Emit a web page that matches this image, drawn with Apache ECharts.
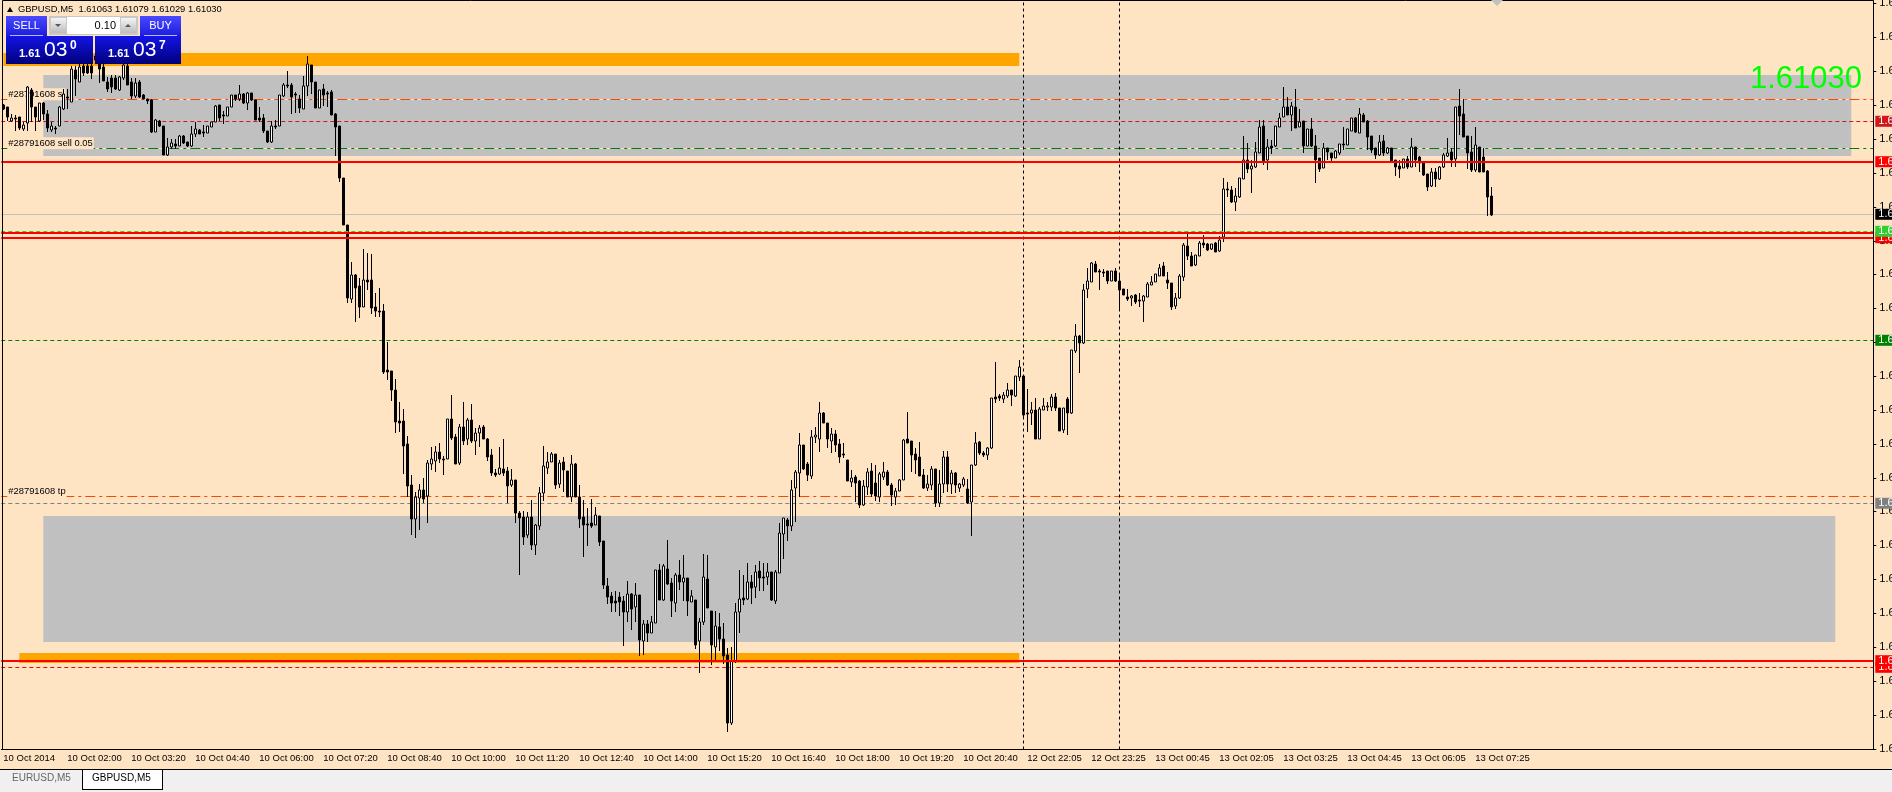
<!DOCTYPE html>
<html>
<head>
<meta charset="utf-8">
<title>GBPUSD,M5</title>
<script src="https://cdn.jsdelivr.net/npm/echarts@6/dist/echarts.min.js"></script>
<style>
html,body{margin:0;padding:0;background:#ffe4c4;overflow:hidden}
#chart{width:1892px;height:792px}
</style>
</head>
<body>
<div id="chart"></div>
<script>
// prices are kept as chart steps, 1 step = 0.0000175, level 1030 = last close 1.61030
var STEP = 0.0000175;
function toPrice(s){ return 1.6103 + (s - 1030) * STEP; }

var xTickLabels = ['10 Oct 2014','10 Oct 02:00','10 Oct 03:20','10 Oct 04:40','10 Oct 06:00','10 Oct 07:20','10 Oct 08:40','10 Oct 10:00','10 Oct 11:20','10 Oct 12:40','10 Oct 14:00','10 Oct 15:20','10 Oct 16:40','10 Oct 18:00','10 Oct 19:20','10 Oct 20:40','12 Oct 22:05','12 Oct 23:25','13 Oct 00:45','13 Oct 02:05','13 Oct 03:25','13 Oct 04:45','13 Oct 06:05','13 Oct 07:25'];
var yTicks = [1241,1207,1173,1139,1105,1071,1037,1003,970,936,902,868,834,800,766,733,699,665,631,597,563,529,495];
var yTickLabel = '1.6';

var opens = [
1139,1137,1123,1126,1127,1115,1121,1154,1137,1123,
1141,1130,1114,1116,1118,1135,1147,1142,1174,1162,
1178,1178,1178,1188,1182,1177,1162,1166,1166,1154,
1166,1178,1162,1148,1162,1149,1145,1144,1112,1123,
1118,1089,1097,1100,1098,1108,1102,1098,1110,1114,
1112,1111,1117,1122,1139,1129,1128,1137,1149,1145,
1150,1141,1151,1144,1126,1126,1113,1102,1118,1118,
1148,1159,1159,1150,1145,1135,1158,1179,1162,1136,
1155,1151,1152,1130,1118,1066,1019,945,969,958,
937,964,964,937,933,933,874,873,854,823,
823,800,759,725,746,754,748,780,783,792,
785,785,825,807,781,817,805,824,803,811,
817,805,789,771,770,775,773,759,764,731,
727,709,727,699,718,751,776,782,790,760,
782,773,747,780,747,727,720,721,719,728,
703,658,648,643,647,643,632,650,637,649,
603,620,611,621,674,644,675,661,641,669,
662,666,642,644,603,622,665,633,597,617,
605,589,521,583,632,646,645,662,657,673,
667,667,672,643,671,710,724,718,756,771,
799,780,768,807,805,831,821,803,810,800,
790,784,762,767,763,739,757,773,761,747,
767,772,759,747,753,764,805,803,790,787,
769,756,759,775,741,760,787,760,771,756,
759,755,742,779,802,791,789,796,847,848,
845,848,854,848,867,868,831,831,834,805,
834,837,837,847,836,814,845,831,893,908,
901,955,962,980,973,972,973,963,973,963,
955,947,946,949,944,943,947,959,962,968,
978,964,961,938,946,967,998,988,979,988,
1001,1000,995,1001,993,1007,1055,1054,1042,1047,
1065,1084,1075,1077,1091,1118,1084,1098,1098,1117,
1127,1137,1129,1137,1117,1123,1098,1115,1098,1086,
1076,1096,1091,1086,1091,1100,1099,1113,1126,1111,
1129,1123,1108,1096,1089,1103,1091,1096,1084,1078,
1076,1085,1077,1097,1087,1081,1070,1058,1072,1065,
1077,1088,1092,1085,1138,1130,1108,1092,1074,1097,
1087,1073,1048];
var closes = [
1135,1127,1126,1125,1116,1119,1157,1137,1127,1141,
1130,1116,1118,1115,1137,1150,1146,1175,1165,1177,
1171,1171,1171,1184,1175,1163,1155,1157,1155,1167,
1179,1159,1148,1161,1147,1145,1143,1112,1124,1118,
1089,1097,1101,1098,1108,1101,1098,1110,1115,1110,
1111,1118,1122,1138,1126,1128,1137,1149,1145,1150,
1141,1151,1144,1124,1124,1113,1102,1118,1117,1149,
1159,1158,1147,1149,1136,1158,1180,1162,1136,1154,
1149,1150,1129,1117,1066,1019,946,969,956,937,
964,962,936,933,932,872,872,854,822,821,
798,758,725,747,754,745,781,785,792,785,
784,825,806,780,817,803,824,803,811,816,
805,787,771,769,776,771,758,764,731,726,
707,727,699,719,751,778,782,790,759,781,
774,747,780,747,725,719,719,718,729,702,
659,647,641,641,642,632,650,635,649,604,
620,611,622,674,644,678,660,643,669,662,
666,643,648,599,622,667,636,599,618,605,
588,521,583,632,645,644,662,656,672,666,
666,672,644,672,711,726,718,754,772,799,
775,769,807,809,831,821,805,810,799,787,
789,763,766,761,739,758,772,750,748,770,
772,759,749,753,764,804,801,789,784,768,
756,760,775,741,760,787,760,771,759,760,
765,741,779,801,791,789,796,846,845,846,
849,854,849,868,877,829,830,834,805,835,
838,838,847,836,813,836,831,894,908,901,
954,963,981,972,972,971,963,973,963,954,
949,945,948,942,943,948,960,962,970,976,
968,961,937,946,968,999,988,978,989,1001,
999,994,1000,992,1004,1055,1054,1042,1048,1066,
1084,1075,1078,1092,1117,1083,1097,1096,1118,1126,
1137,1129,1138,1116,1122,1098,1115,1098,1084,1075,
1096,1092,1086,1093,1100,1099,1115,1126,1112,1130,
1122,1107,1094,1089,1102,1091,1096,1083,1077,1075,
1085,1077,1097,1084,1081,1069,1057,1072,1065,1077,
1089,1091,1084,1137,1128,1107,1091,1074,1099,1072,
1072,1047,1029];
var lows = [
1134,1123,1122,1113,1114,1113,1113,1122,1113,1122,
1124,1112,1112,1110,1118,1134,1135,1142,1148,1162,
1168,1170,1165,1181,1161,1163,1152,1151,1154,1153,
1164,1159,1145,1146,1146,1145,1140,1111,1112,1117,
1089,1088,1095,1095,1098,1100,1097,1097,1107,1110,
1107,1111,1117,1122,1123,1120,1128,1137,1143,1143,
1140,1134,1143,1124,1122,1111,1101,1101,1115,1118,
1147,1156,1130,1131,1131,1135,1148,1150,1136,1136,
1138,1137,1129,1088,1062,1019,941,941,922,926,
937,954,930,927,927,870,864,843,811,812,
770,747,709,706,714,741,721,774,772,781,
769,785,804,780,779,799,799,801,789,797,
805,783,768,767,769,768,741,757,721,669,
699,706,694,689,714,743,770,782,755,756,
752,747,742,747,716,687,698,716,719,698,
655,640,632,632,628,598,622,614,622,588,
589,602,611,621,644,643,659,627,632,654,
643,628,642,595,571,619,636,579,584,593,
580,512,519,581,611,639,644,640,646,653,
653,659,643,640,671,685,703,713,722,747,
774,763,765,801,792,821,796,791,792,781,
786,763,757,742,736,738,749,747,743,742,
764,758,738,739,753,764,801,772,770,768,
755,753,754,737,737,751,752,750,751,752,
757,740,708,778,789,787,784,795,841,843,
841,846,838,847,863,827,812,819,805,805,
834,833,833,833,813,811,809,830,891,871,
900,946,962,972,954,967,960,963,962,935,
949,943,938,940,937,922,947,959,962,968,
968,955,934,935,945,963,984,978,978,988,
996,993,994,992,992,1002,1047,1041,1033,1046,
1065,1071,1051,1076,1091,1079,1074,1090,1097,1117,
1127,1129,1113,1116,1117,1091,1098,1097,1061,1072,
1076,1084,1081,1086,1089,1094,1099,1113,1111,1111,
1122,1094,1091,1085,1088,1088,1090,1081,1068,1066,
1076,1075,1077,1077,1072,1068,1053,1057,1057,1064,
1076,1087,1077,1077,1109,1107,1075,1072,1072,1072,
1072,1028,1028];
var highs = [
1140,1137,1130,1129,1127,1122,1158,1156,1137,1141,
1142,1134,1122,1118,1138,1155,1155,1178,1178,1180,
1182,1182,1182,1192,1186,1180,1167,1169,1169,1168,
1182,1182,1166,1166,1164,1150,1145,1145,1125,1124,
1118,1106,1105,1105,1109,1109,1102,1118,1122,1115,
1119,1118,1122,1139,1139,1133,1137,1149,1149,1159,
1151,1152,1151,1144,1137,1130,1113,1123,1124,1149,
1161,1173,1161,1152,1149,1168,1188,1179,1162,1154,
1160,1153,1154,1131,1118,1066,1019,982,970,966,
995,991,990,951,956,940,902,873,865,842,
835,808,769,752,760,766,784,797,798,801,
788,825,849,810,820,842,826,840,816,819,
819,806,795,775,797,805,777,775,764,733,
733,732,744,720,757,798,792,792,790,784,
787,773,789,781,759,744,736,745,737,728,
703,666,652,653,652,648,663,651,661,649,
624,624,628,674,680,680,704,666,671,684,
689,666,654,644,626,690,689,633,633,631,
621,596,597,641,674,669,681,669,679,683,
681,681,672,674,721,726,726,764,774,811,
799,782,814,817,842,832,821,816,814,805,
801,784,774,769,764,764,776,781,779,772,
782,774,761,756,765,805,832,803,796,802,
775,769,778,775,774,793,793,774,772,761,
767,765,779,812,803,793,797,846,882,850,
852,861,854,868,884,868,855,842,846,837,
846,842,850,851,836,836,847,894,920,909,
960,976,982,983,975,975,973,973,976,969,
955,955,949,950,951,949,962,968,970,980,
982,972,961,951,970,1001,1011,992,989,1003,
1009,1001,1000,1002,1008,1066,1062,1058,1056,1066,
1108,1101,1084,1102,1124,1124,1105,1104,1118,1131,
1157,1147,1142,1155,1135,1123,1115,1126,1109,1086,
1101,1096,1091,1094,1100,1117,1115,1126,1127,1136,
1131,1124,1108,1096,1109,1109,1097,1096,1084,1084,
1085,1088,1106,1097,1088,1081,1070,1076,1076,1078,
1091,1106,1096,1137,1155,1145,1108,1108,1117,1097,
1096,1074,1057];

// zones: first bar, last bar, upper level, lower level
var orangeZones = [[0,254,1191,1178],[4,254,591,581]];
var greyZones = [[10,462,1169,1088],[10,458,728,602]];
var periodBars = [255,279];

var LABEL_EVERY = 16;
var BAR_SLOTS = 468;
var categories = [];
for (var i = 0; i < BAR_SLOTS; i++) categories.push(xTickLabels[i / LABEL_EVERY] || '');
var candles = opens.map(function(o,i){
  return [toPrice(o), toPrice(closes[i]), toPrice(lows[i]), toPrice(highs[i])];
});

var FONT = '"Liberation Sans", Arial, sans-serif';

function zone(z, color){
  return [{xAxis:z[0], yAxis:toPrice(z[2]), itemStyle:{color:color}}, {xAxis:z[1], yAxis:toPrice(z[3])}];
}
function level(s, color, type, width, tag, tagBg){
  var o = {yAxis:toPrice(s), lineStyle:{color:color, type:type, width:width, opacity:1}, label:{show:false}};
  if (tag) {
    o.label = {show:true, position:'end', distance:2, formatter:tag, color:'#fff', backgroundColor:tagBg || color,
      fontFamily:FONT, fontSize:11, lineHeight:10, padding:[1,8,0,3]};
  }
  return o;
}
function note(s, text){
  return {yAxis:toPrice(s), lineStyle:{color:'#ffe4c4', type:'solid', width:1, opacity:1},
    label:{show:true, position:'insideStartTop', distance:0, offset:[6,1], formatter:text, color:'#000',
      backgroundColor:'#ffe4c4', fontFamily:FONT, fontSize:9.4, lineHeight:12, padding:[0,1]}};
}

var DASHDOT = [10,4,3,4];
var DASH = [4,3];

// chrome of the terminal window, drawn on top of the chart
function box(x,y,w,h,fill,extra){
  return Object.assign({type:'rect', silent:true, z:50, shape:{x:x,y:y,width:w,height:h}, style:{fill:fill}}, extra||{});
}
function txt(x,y,t,size,color,opt){
  opt = opt || {};
  return {type:'text', silent:true, z:60, x:x, y:y, style:{text:t, fontSize:size, fill:color, fontFamily:FONT,
    fontWeight:opt.weight||'normal', textAlign:opt.align||'left', textVerticalAlign:'middle'}};
}
function vgrad(a,b){ return {type:'linear',x:0,y:0,x2:0,y2:1,colorStops:[{offset:0,color:a},{offset:1,color:b}]}; }
function priceBox(x,w,last){
  return [
    box(x,36,w,28,vgrad('#1414e6','#00007c')),
    txt(x+13,54,'1.61',11,'#fff',{weight:'bold'}),
    txt(x+38,50,'03',21,'#fff'),
    txt(x+64,46,last,12,'#fff',{weight:'bold'})
  ];
}
function panelButton(x,w,label){
  return [
    box(x,16,w,20,vgrad('#4a4aff','#1c1ce0')),
    box(x+4,35,w-8,1,'#b8b8ff'),
    txt(x+w/2,26,label,11,'#fff',{align:'center'})
  ];
}
var chrome = [].concat(
  [
    {type:'rect', silent:true, z:40, shape:{x:2.5,y:0.5,width:1871,height:749}, style:{fill:null, stroke:'#000', lineWidth:1}},
    {type:'polygon', silent:true, z:40, shape:{points:[[1491,0],[1503,0],[1497,6]]}, style:{fill:'#c0c0c0'}},
    {type:'polygon', silent:true, z:60, shape:{points:[[7,12],[13,12],[10,7]]}, style:{fill:'#000'}},
    txt(18,9,'GBPUSD,M5  1.61063 1.61079 1.61029 1.61030',9.4,'#000'),
    txt(1862,79,'1.61030',31,'#00ff00',{align:'right'}),
    box(0,769,1892,23,'#f0f0f0'),
    box(0,769,1892,1,'#000'),
    box(83,770,79,19,'#fff'),
    box(162,770,1,20,'#000'),
    box(83,789,80,1,'#000'),
    box(82,770,1,20,'#000'),
    txt(12,778,'EURUSD,M5',10,'#666'),
    txt(92,778,'GBPUSD,M5',10,'#000'),
    // lot size box
    box(49,16,89,19,'#c8c8c8'),
    box(67,17,53,17,'#fff'),
    box(51,18,15,15,vgrad('#f4f4f4','#bcbcbc')),
    box(121,18,15,15,vgrad('#f4f4f4','#bcbcbc')),
    {type:'polygon', silent:true, z:60, shape:{points:[[55,24],[61,24],[58,27]]}, style:{fill:'#556'}},
    {type:'polygon', silent:true, z:60, shape:{points:[[125,27],[131,27],[128,24]]}, style:{fill:'#556'}},
    txt(116,25.5,'0.10',11,'#000',{align:'right'})
  ],
  panelButton(6,41,'SELL'),
  panelButton(140,41,'BUY'),
  priceBox(6,87,'0'),
  priceBox(95,86,'7')
);

var closePrices = closes.map(toPrice);
var chart = echarts.init(document.getElementById('chart'));
chart.setOption({
  animation:false,
  backgroundColor:'#ffe4c4',
  grid:{left:1.3, right:18.7, top:1, bottom:42.5, outerBoundsMode:'none'},
  graphic:chrome,
  xAxis:{
    type:'category', data:categories, boundaryGap:true,
    axisLine:{lineStyle:{color:'#000',width:1}},
    axisTick:{alignWithLabel:true, length:3, lineStyle:{color:'#000'},
      interval:function(i){ return i % LABEL_EVERY === 0 && i / LABEL_EVERY < xTickLabels.length; }},
    axisLabel:{interval:LABEL_EVERY-1, align:'left', margin:4, color:'#000', fontSize:9.5, fontFamily:FONT, hideOverlap:false},
    splitLine:{show:false}
  },
  yAxis:{
    type:'value', position:'right', scale:true, min:toPrice(494.5), max:toPrice(1243),
    axisLine:{show:true, lineStyle:{color:'#000',width:1}},
    axisTick:{show:true, length:3, lineStyle:{color:'#000'}, customValues:yTicks.map(toPrice)},
    axisLabel:{margin:6, color:'#000', fontSize:11, fontFamily:FONT, customValues:yTicks.map(toPrice),
      formatter:function(){ return yTickLabel; }},
    splitLine:{show:false}
  },
  series:[
    {
      type:'line', name:'levels below', data:closePrices, z:1, silent:true, showSymbol:false, lineStyle:{opacity:0},
      markArea:{silent:true, z:0, itemStyle:{opacity:1}, data:greyZones.map(function(z){return zone(z,'#c0c0c0');}).concat(orangeZones.map(function(z){return zone(z,'#ffa500');}))},
      markLine:{silent:true, z:1, symbol:'none', animation:false, precision:7, data:[
        note(1144.7,'#28791608 sl'),
        level(1144.7,'#ff4500',DASHDOT,1),
        level(1122.7,'#d0181c',DASH,1,'1.6'),
        note(1095.7,'#28791608 sell 0.05'),
        level(1095.7,'#008000',DASHDOT,1),
        level(1029.7,'#c0c0c0','solid',1,'1.6','#000'),
        level(903.7,'#008000',DASH,1,'1.6'),
        note(747.7,'#28791608 tp'),
        level(747.7,'#ff4500',DASHDOT,1),
        level(740.7,'#808080',DASH,1,'1.6'),
        level(576.7,'#ff0000',DASH,1,'1.6')
      ]}
    },
    {
      type:'candlestick', name:'GBPUSD,M5', data:candles, z:2, barWidth:3, silent:true,
      itemStyle:{color:'#fff', color0:'#000', borderColor:'#000', borderColor0:'#000', borderWidth:1}
    },
    {
      type:'line', name:'levels above', data:closePrices, z:3, silent:true, showSymbol:false, lineStyle:{opacity:0},
      markLine:{silent:true, z:5, symbol:'none', animation:false, precision:7, data:[
        {xAxis:periodBars[0], lineStyle:{color:'#000',type:[3,3],width:1,opacity:1}, label:{show:false}},
        {xAxis:periodBars[1], lineStyle:{color:'#000',type:[3,3],width:1,opacity:1}, label:{show:false}},
        level(1082.3,'#ff0000','solid',2,'1.6'),
        level(1006.3,'#ff0000','solid',2,'1.6'),
        level(1011.3,'#ff0000','solid',2),
        level(1012.7,'#32cd32',DASH,1,'1.6'),
        level(583.3,'#ff0000','solid',2,'1.6')
      ]}
    }
  ]
});
</script>
</body>
</html>
